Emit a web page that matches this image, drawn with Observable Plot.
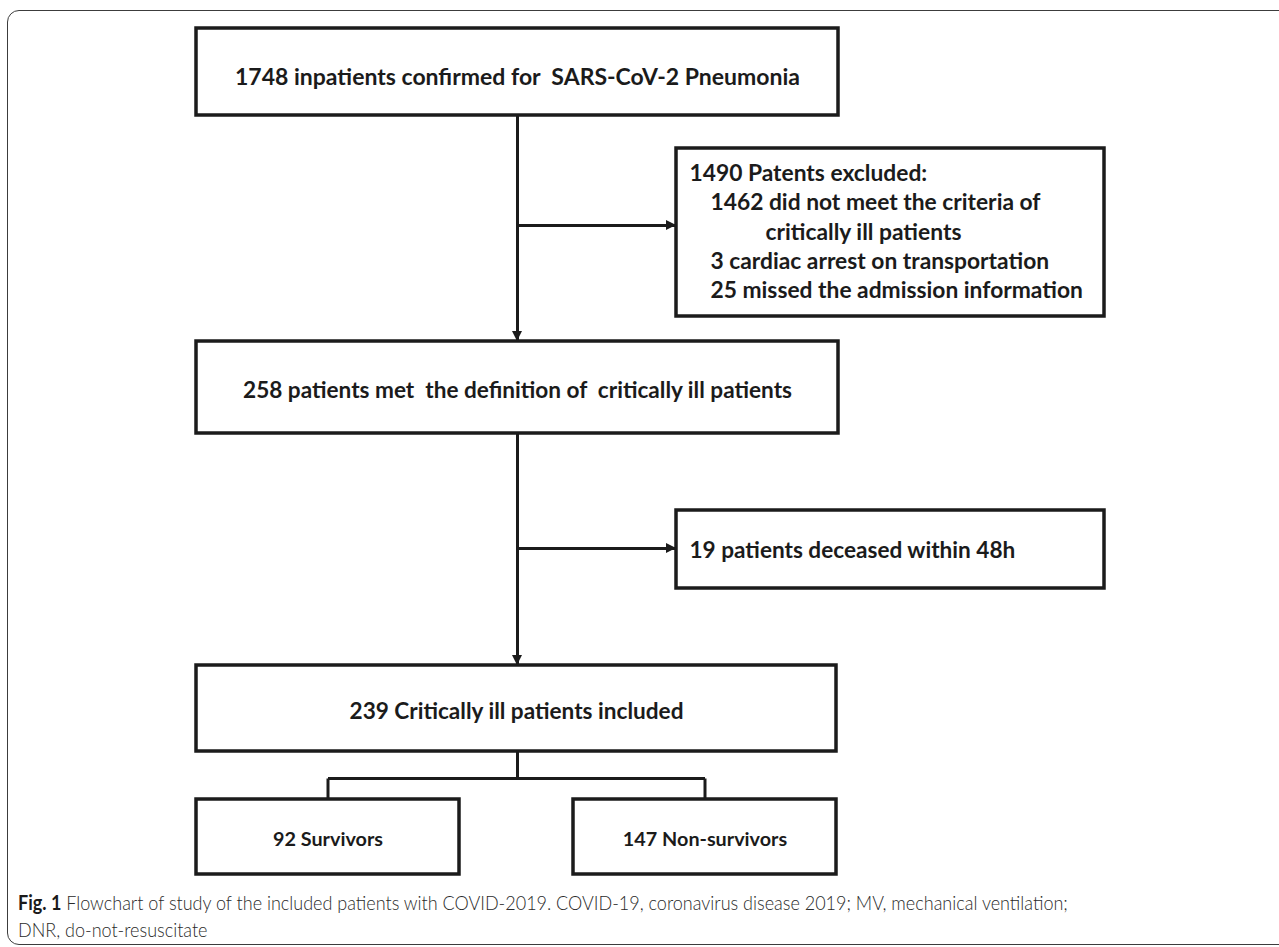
<!DOCTYPE html>
<html>
<head>
<meta charset="utf-8">
<script src="https://cdn.jsdelivr.net/npm/d3@7"></script>
<script src="https://cdn.jsdelivr.net/npm/@observablehq/plot@0.6"></script>
<style>
  body { margin: 0; background: #fff; }
  #wrap { position: relative; width: 1279px; height: 947px; overflow: hidden; background: #fff; }
  #frame { position: absolute; left: 7px; top: 10px; width: 1320px; height: 935px; border: 1.5px solid #3c3c3c; border-radius: 12px; box-sizing: border-box; }
  #chart { position: absolute; left: 0; top: 0; }
  #caption { position: absolute; left: 18px; top: 889px; font-family: Lato, "Open Sans", sans-serif; font-weight: 300; font-size: 20px; line-height: 27px; color: #2a2a2a; white-space: nowrap; transform: scaleX(0.9); transform-origin: left top; }
  #caption b { font-weight: 700; color: #1a1a1a; }
</style>
</head>
<body>
<div id="wrap">
  <div id="frame"></div>
  <div id="chart"></div>
  <div id="caption"></div>
</div>
<script>
// ---- data ----
const nodeIds = ["confirmed", "excluded", "critical", "deceased", "included", "survivors", "nonSurvivors"];
const nodeCounts = [1748, 1490, 258, 19, 239, 92, 147];
const nodeLabels = [
  "inpatients confirmed for  SARS-CoV-2 Pneumonia",
  "Patents excluded:",
  "patients met  the definition of  critically ill patients",
  "patients deceased within 48h",
  "Critically ill patients included",
  "Survivors",
  "Non-survivors"
];
const exclusionCounts = [1462, 3, 25];
const exclusionReasons = ["did not meet the criteria of\ncritically ill patients", "cardiac arrest on transportation", "missed the admission information"];
const captionTitle = "Fig. 1";
const captionLines = [
  "Flowchart of study of the included patients with COVID-2019. COVID-19, coronavirus disease 2019; MV, mechanical ventilation;",
  "DNR, do-not-resuscitate"
];

// ---- layout (pixel space of the figure) ----
const W = 1279, H = 885;
const boxLayout = {
  confirmed:    {x1: 196, x2: 838,  y1: 28,  y2: 115, ty: 77, fs: 23},
  excluded:     {x1: 676, x2: 1104, y1: 148, y2: 316},
  critical:     {x1: 196, x2: 838,  y1: 341, y2: 433, ty: 390, fs: 22.6},
  deceased:     {x1: 676, x2: 1104, y1: 510, y2: 588, ty: 550, fs: 22.6, left: true},
  included:     {x1: 196, x2: 836,  y1: 665, y2: 751, ty: 711, fs: 22.6},
  survivors:    {x1: 196, x2: 459,  y1: 799, y2: 874, ty: 839, fs: 19.8},
  nonSurvivors: {x1: 573, x2: 836,  y1: 799, y2: 874, ty: 839, fs: 19.8}
};
const trunkX = 517;
const excludedLines = {x: [689, 710, 765, 710, 710], y: [173, 202, 232, 261, 290], fs: 22.8};
const branchY = 778;

// ---- build mark data ----
const boxes = nodeIds.map(id => ({id, ...boxLayout[id]}));
const centered = [], leftText = [];
nodeIds.forEach((id, i) => {
  if (id === "excluded") return;
  const b = boxLayout[id];
  const t = `${nodeCounts[i]} ${nodeLabels[i]}`;
  if (b.left) leftText.push({text: t, x: b.x1 + 13, y: b.ty, fs: b.fs});
  else centered.push({text: t, x: (b.x1 + b.x2) / 2, y: b.ty, fs: b.fs});
});
const exLines = [`${nodeCounts[1]} ${nodeLabels[1]}`];
exclusionCounts.forEach((c, i) => {
  const parts = exclusionReasons[i].split("\n");
  exLines.push(`${c} ${parts[0]}`);
  parts.slice(1).forEach(p => exLines.push(p));
});
exLines.forEach((t, i) => leftText.push({text: t, x: excludedLines.x[i], y: excludedLines.y[i], fs: excludedLines.fs}));

const L = boxLayout;
const midX = b => (b.x1 + b.x2) / 2;
const segs = [
  {x1: trunkX, y1: L.confirmed.y2, x2: trunkX, y2: L.critical.y1},
  {x1: trunkX, y1: L.critical.y2, x2: trunkX, y2: L.included.y1},
  {x1: trunkX, y1: 225, x2: L.excluded.x1, y2: 225},
  {x1: trunkX, y1: 548, x2: L.deceased.x1, y2: 548},
  {x1: trunkX, y1: L.included.y2, x2: trunkX, y2: branchY},
  {x1: midX(L.survivors), y1: branchY, x2: midX(L.nonSurvivors), y2: branchY},
  {x1: midX(L.survivors), y1: branchY, x2: midX(L.survivors), y2: L.survivors.y1},
  {x1: midX(L.nonSurvivors), y1: branchY, x2: midX(L.nonSurvivors), y2: L.nonSurvivors.y1}
];
// arrowheads as small filled triangles
const headLen = 10, headHalf = 5;
const rightHeads = [], downHeads = [];
[[L.excluded.x1, 225, "a"], [L.deceased.x1, 548, "b"]].forEach(([tx, ty, k]) => {
  rightHeads.push({k, x: tx - headLen, y1: ty - headHalf, y2: ty + headHalf});
  rightHeads.push({k, x: tx, y1: ty, y2: ty});
});
[[trunkX, L.critical.y1, "c"], [trunkX, L.included.y1, "d"]].forEach(([tx, ty, k]) => {
  downHeads.push({k, y: ty - headLen, x1: tx - headHalf, x2: tx + headHalf});
  downHeads.push({k, y: ty, x1: tx, x2: tx});
});

const ink = "#1b1b1b";
const font = "Lato, 'Open Sans', sans-serif";
const chart = Plot.plot({
  width: W, height: H,
  marginTop: 0, marginRight: 0, marginBottom: 0, marginLeft: 0,
  x: {domain: [0, W], range: [0, W], axis: null},
  y: {domain: [0, H], range: [0, H], axis: null},
  style: {background: "transparent"},
  marks: [
    Plot.link(segs, {x1: "x1", y1: "y1", x2: "x2", y2: "y2", stroke: ink, strokeWidth: 3}),
    Plot.areaY(rightHeads, {x: "x", y1: "y1", y2: "y2", z: "k", fill: ink, curve: "linear"}),
    Plot.areaX(downHeads, {y: "y", x1: "x1", x2: "x2", z: "k", fill: ink, curve: "linear"}),
    Plot.rect(boxes, {x1: "x1", x2: "x2", y1: "y1", y2: "y2", fill: "white", stroke: ink, strokeWidth: 3.5}),
    Plot.text(centered, {x: "x", y: "y", text: "text", textAnchor: "middle", fontSize: d => d.fs, fontWeight: "bold", fontFamily: font, fill: ink, lineAnchor: "middle"}),
    Plot.text(leftText, {x: "x", y: "y", text: "text", textAnchor: "start", fontSize: d => d.fs, fontWeight: "bold", fontFamily: font, fill: ink, lineAnchor: "middle"})
  ]
});
document.getElementById("chart").appendChild(chart);

const cap = document.getElementById("caption");
cap.innerHTML = `<b>${captionTitle}</b> ${captionLines[0]}<br>${captionLines[1]}`;
</script>
</body>
</html>
